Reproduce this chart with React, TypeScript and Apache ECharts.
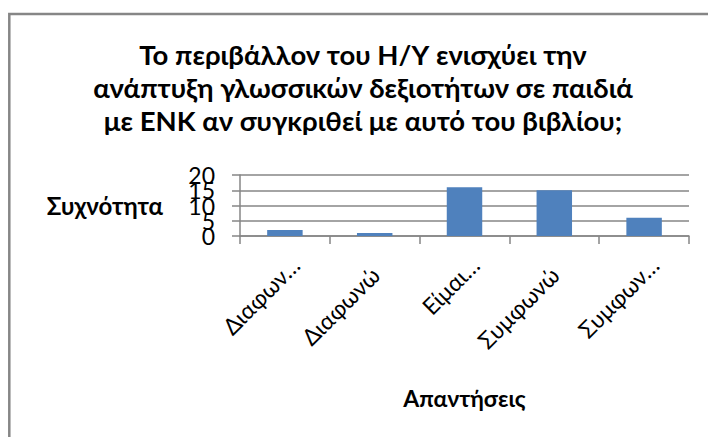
import React, { useEffect, useRef } from "react";
import * as echarts from "echarts";

// Survey answers (labels as they appear, shortened) and their counts
const categories = ["Διαφων…", "Διαφωνώ", "Είμαι…", "Συμφωνώ", "Συμφων…"];
const counts = [2, 1, 16, 15, 6];
const yTicks = { min: 0, max: 20, interval: 5 };
// The tick labels crowd each other, so they are split over two stacked axes
const yLabelsEven = [0, 10, 20];
const yLabelsOdd = [5, 15];

const titleLines = [
  "Το περιβάλλον του Η/Υ ενισχύει την",
  "ανάπτυξη γλωσσικών δεξιοτήτων σε παιδιά",
  "με ΕΝΚ αν συγκριθεί με αυτό του βιβλίου;",
];
const yName = "Συχνότητα";
const xName = "Απαντήσεις";

const FONT = "Lato, 'Open Sans', sans-serif";
const GRAY = "#868686";

// Shortened labels sit a little further along their slant than whole words
const isShortened = (s: string) => s.endsWith("…");

const yLabelStyle = {
  margin: 25,
  showMinLabel: true,
  showMaxLabel: true,
  hideOverlap: false,
  padding: [0, 0, 4, 0],
  fontFamily: FONT,
  fontSize: 23,
  color: "#000",
};

const frame = {
  type: "rect",
  shape: { x: 9.3, y: 14, width: 760, height: 500 },
  style: { fill: "none", stroke: GRAY, lineWidth: 2.5 },
  silent: true,
};

export default function App() {
  const ref = useRef<HTMLDivElement>(null);

  useEffect(() => {
    if (!ref.current) return;
    const chart = echarts.init(ref.current, null, { renderer: "svg" });
    chart.setOption({
      animation: false,
      backgroundColor: "#ffffff",
      textStyle: { fontFamily: FONT },
      title: {
        text: titleLines.join("\n"),
        left: 363,
        top: 38,
        padding: 0,
        textAlign: "center",
        textStyle: {
          fontFamily: FONT,
          fontWeight: "bold",
          fontSize: 27.5,
          lineHeight: 33,
          color: "#000",
        },
      },
      graphic: [frame],
      grid: { left: 240, right: 19, top: 175, bottom: 201, containLabel: false },
      xAxis: {
        type: "category",
        data: categories,
        name: xName,
        nameLocation: "middle",
        nameGap: 150,
        nameTextStyle: {
          fontFamily: FONT,
          fontWeight: "bold",
          fontSize: 23,
          color: "#000",
        },
        axisLine: { show: true, lineStyle: { color: GRAY, width: 1.5 } },
        axisTick: { show: true, length: 8, alignWithLabel: false, lineStyle: { color: GRAY, width: 1.5 } },
        // slanted category labels are placed below as text elements
        axisLabel: { show: false },
        splitLine: { show: false },
      },
      yAxis: [
        {
          type: "value",
          min: yTicks.min,
          max: yTicks.max,
          interval: yTicks.interval,
          name: yName,
          nameLocation: "middle",
          nameRotate: 0,
          nameGap: 77,
          nameTextStyle: {
            fontFamily: FONT,
            fontWeight: "bold",
            fontSize: 24,
            color: "#000",
            align: "right",
            verticalAlign: "middle",
            padding: [10, 0, 0, 0],
          },
          axisLine: { show: true, lineStyle: { color: GRAY, width: 1.5 } },
          axisTick: { show: true, length: 8, lineStyle: { color: GRAY, width: 1.5 } },
          axisLabel: { ...yLabelStyle, customValues: yLabelsEven },
          splitLine: { show: true, lineStyle: { color: GRAY, width: 1.5 } },
        },
        {
          type: "value",
          position: "left",
          offset: 0,
          min: yTicks.min,
          max: yTicks.max,
          interval: yTicks.interval,
          axisLine: { show: false },
          axisTick: { show: false },
          splitLine: { show: false },
          axisLabel: { ...yLabelStyle, customValues: yLabelsOdd },
        },
      ],
      series: [
        {
          type: "bar",
          data: counts,
          barWidth: "39.5%",
          itemStyle: { color: "#4F81BD" },
        },
      ],
    });

    // Category labels at 45°, each ending just right of / below its category centre
    const axisY = chart.convertToPixel({ yAxisIndex: 0 }, yTicks.min) as number;
    const step = Math.SQRT1_2;
    const labels = categories.map((c, i) => {
      const cx = chart.convertToPixel({ xAxisIndex: 0 }, i) as number;
      const back = isShortened(c) ? 0 : 14;
      return {
        type: "text",
        x: cx + 10.5 - back * step,
        y: axisY + 25 + back * step,
        rotation: Math.PI / 4,
        silent: true,
        style: {
          text: c,
          fontFamily: FONT,
          fontSize: 23,
          fill: "#000",
          align: "right",
          verticalAlign: "middle",
        },
      };
    });
    chart.setOption({ graphic: [frame, ...labels] });

    return () => chart.dispose();
  }, []);

  return (
    <div
      ref={ref}
      style={{ position: "fixed", left: 0, top: 0, width: 708, height: 437 }}
    />
  );
}
